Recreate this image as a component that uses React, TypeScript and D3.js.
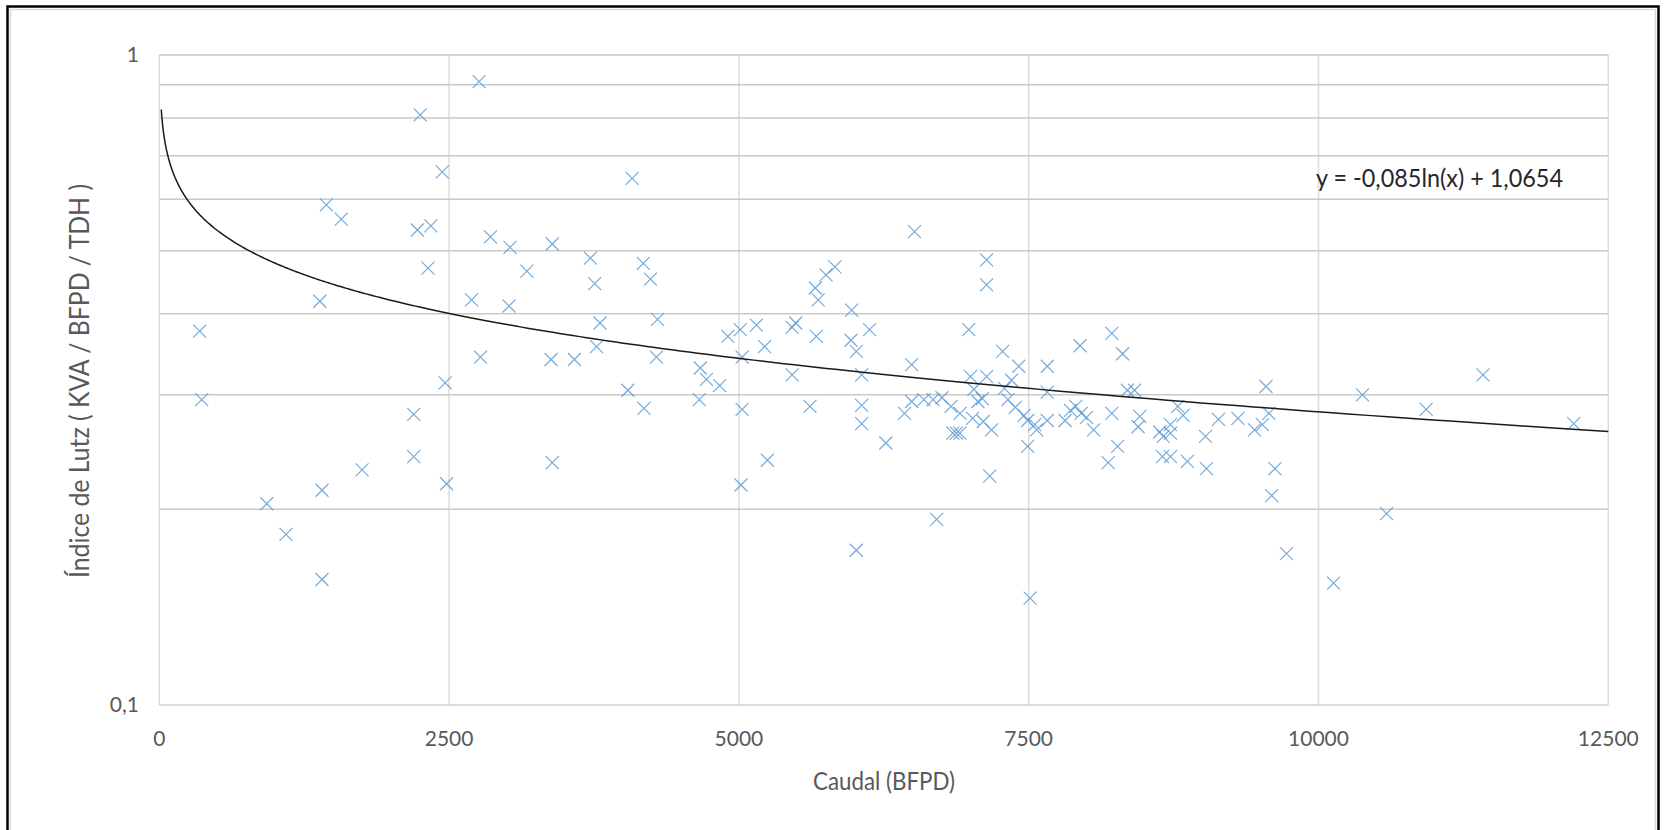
import React from "react";
import * as d3 from "d3";

// Caudal (BFPD) vs Índice de Lutz
const caudal = [
  348, 366, 927, 1093, 1385, 1441, 1404, 1404, 1570, 1749,
  2195, 2195, 2226, 2251, 2343, 2318, 2441, 2466, 2478, 2694,
  2759, 2771, 2857, 3026, 3017, 3171, 3390, 3380, 3390, 3581,
  3719, 3756, 3802, 3772, 4042, 4079, 4175, 4237, 4181, 4289,
  4298, 4658, 4667, 4720, 4834, 4905, 5012, 5028, 5028, 5018,
  5151, 5222, 5246, 5459, 5490, 5459, 5613, 5668, 5659, 5684,
  5751, 5828, 5973, 5967, 6013, 6013, 6059, 6059, 6059, 6127,
  6268, 6490, 6490, 6515, 6429, 6596, 6675, 6752, 6706, 6830,
  6845, 6876, 6906, 6908, 6983, 6998, 7016, 7027, 7062, 7100,
  7108, 7137, 7137, 7137, 7179, 7164, 7275, 7291, 7321, 7352,
  7384, 7414, 7460, 7491, 7491, 7512, 7552, 7568, 7660, 7660,
  7660, 7814, 7860, 7906, 7943, 7953, 7999, 8060, 8217, 8217,
  8186, 8267, 8310, 8351, 8413, 8459, 8444, 8630, 8661, 8723,
  8723, 8654, 8723, 8869, 8786, 8832, 9025, 9034, 9137, 9305,
  9448, 9516, 9572, 9547, 9596, 9624, 9724, 10130, 10379, 10587,
  10929, 11419, 12202,
];
const lutz = [
  0.376, 0.295, 0.204, 0.183, 0.418, 0.588, 0.214, 0.156, 0.559, 0.23,
  0.28, 0.241, 0.538, 0.809, 0.546, 0.47, 0.661, 0.313, 0.219, 0.42,
  0.91, 0.343, 0.525, 0.506, 0.411, 0.465, 0.512, 0.34, 0.236, 0.34,
  0.487, 0.445, 0.387, 0.356, 0.305, 0.646, 0.478, 0.452, 0.286, 0.343,
  0.392, 0.295, 0.33, 0.317, 0.31, 0.369, 0.378, 0.343, 0.285, 0.218,
  0.384, 0.356, 0.238, 0.381, 0.387, 0.322, 0.288, 0.369, 0.438, 0.42,
  0.459, 0.472, 0.405, 0.364, 0.35, 0.173, 0.322, 0.289, 0.271, 0.378,
  0.253, 0.334, 0.293, 0.535, 0.281, 0.295, 0.295, 0.297, 0.193, 0.288,
  0.262, 0.262, 0.262, 0.281, 0.378, 0.32, 0.276, 0.306, 0.293, 0.296,
  0.273, 0.484, 0.443, 0.32, 0.265, 0.225, 0.35, 0.307, 0.295, 0.316,
  0.287, 0.332, 0.279, 0.274, 0.25, 0.146, 0.27, 0.265, 0.332, 0.303,
  0.274, 0.274, 0.284, 0.288, 0.357, 0.281, 0.277, 0.265, 0.373, 0.281,
  0.236, 0.25, 0.347, 0.305, 0.305, 0.278, 0.268, 0.263, 0.259, 0.27,
  0.262, 0.241, 0.241, 0.237, 0.288, 0.279, 0.259, 0.231, 0.275, 0.276,
  0.265, 0.27, 0.281, 0.309, 0.21, 0.231, 0.171, 0.154, 0.3, 0.197,
  0.285, 0.322, 0.271,
];

const xTicks = [0, 2500, 5000, 7500, 10000, 12500];
const yMinor = [0.2, 0.3, 0.4, 0.5, 0.6, 0.7, 0.8, 0.9];
const yLabels = [0.1, 1];

// trendline y = -0.085 ln(x) + 1.0654
const trendA = -0.085;
const trendB = 1.0654;

const W = 1665;
const H = 830;
const font = "Lato, 'Open Sans', sans-serif";

export default function App() {
  const x = d3.scaleLinear().domain([0, 12500]).range([159.3, 1608.3]);
  const y = d3.scaleLog().domain([0.1, 1]).range([705, 55]);

  const trendPts = d3.range(0, 401).map((i) => {
    const xv = 17 * Math.pow(12500 / 17, i / 400);
    return [xv, trendA * Math.log(xv) + trendB] as [number, number];
  });
  const trendPath = d3
    .line<[number, number]>()
    .x((d) => x(d[0]))
    .y((d) => y(d[1]))(trendPts);

  const fmt = (v: number) => String(v).replace(".", ",");
  const s = 6.5;

  return (
    <svg
      width={W}
      height={H}
      style={{ position: "absolute", left: 0, top: 0, background: "#fff" }}
    >
      <rect x={0} y={0} width={W} height={H} fill="#fff" />
      {/* frame */}
      <rect x={10.5} y={9.5} width={1645} height={840} fill="none" stroke="#d9d9d9" strokeWidth={1.5} />
      <rect x={7.5} y={6.5} width={1651} height={850} fill="none" stroke="#000" strokeWidth={2.5} />

      {/* vertical gridlines */}
      {xTicks.map((t) => (
        <line key={"vx" + t} x1={x(t)} x2={x(t)} y1={y(1)} y2={y(0.1)} stroke="#dcdcdc" strokeWidth={1.5} />
      ))}
      {/* horizontal gridlines */}
      {[...yMinor, 1].map((t) => (
        <line key={"hy" + t} x1={x(0)} x2={x(12500)} y1={y(t)} y2={y(t)} stroke="#c9c9c9" strokeWidth={1.5} />
      ))}
      <line x1={x(0)} x2={x(12500)} y1={y(0.1)} y2={y(0.1)} stroke="#d0d0d0" strokeWidth={1.5} />

      {/* tick labels */}
      {yLabels.map((t) => (
        <text key={"yl" + t} x={139} y={y(t)} dy="0.35em" textAnchor="end" fontFamily={font} fontSize={21} fill="#595959">
          {fmt(t)}
        </text>
      ))}
      {xTicks.map((t) => (
        <text key={"xl" + t} x={x(t)} y={739} dy="0.35em" textAnchor="middle" fontFamily={font} fontSize={21} fill="#595959">
          {t}
        </text>
      ))}

      {/* axis titles */}
      <text x={884} y={781} dy="0.35em" textAnchor="middle" fontFamily={font} fontSize={24.5} fill="#595959" textLength={142} lengthAdjust="spacingAndGlyphs">
        Caudal (BFPD)
      </text>
      <text
        transform="translate(89,381) rotate(-90)"
        textAnchor="middle"
        fontFamily={font}
        fontSize={26}
        fill="#595959"
        textLength={394}
        lengthAdjust="spacingAndGlyphs"
      >
        Índice de Lutz ( KVA / BFPD / TDH )
      </text>

      {/* points */}
      {caudal.map((c, i) => {
        const cx = x(c);
        const cy = y(lutz[i]);
        return (
          <path
            key={"p" + i}
            d={`M${cx - s},${cy - s}L${cx + s},${cy + s}M${cx - s},${cy + s}L${cx + s},${cy - s}`}
            stroke="#5b9bd5"
            strokeWidth={1.2}
            strokeOpacity={0.85}
            fill="none"
          />
        );
      })}

      {/* trendline */}
      <path d={trendPath || ""} fill="none" stroke="#1a1a1a" strokeWidth={1.5} />
      <text x={1316} y={187} fontFamily={font} fontSize={25} fill="#262626" textLength={247} lengthAdjust="spacingAndGlyphs">
        y = -0,085ln(x) + 1,0654
      </text>
    </svg>
  );
}
